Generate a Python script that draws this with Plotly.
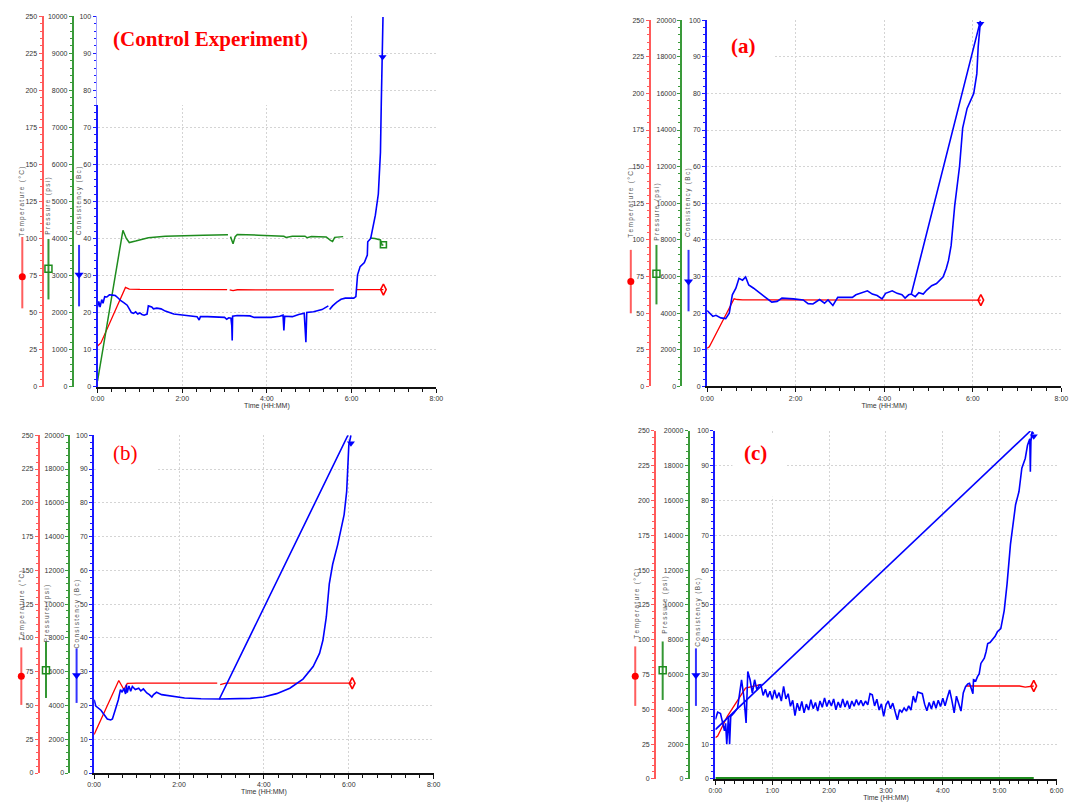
import plotly.graph_objects as go

W, H = 1079, 812

# ===================== DATA =====================
# time in hours, temperature in degC, pressure in psi, consistency in Bc

# ---- Control experiment ----
ctrl_temp_t = [0, 0.08, 0.66, 0.75, 1.0, 2.0, 3.06, None, 3.12, 3.2, 3.3, 4.0, 5.0, 5.58, None, 6.1, 6.5, 6.75]
ctrl_temp_c = [27.5, 29.5, 67.0, 65.8, 65.6, 65.5, 65.5, None, 65.3, 64.8, 65.4, 65.5, 65.4, 65.3, None, 65.5, 65.5, 65.5]
ctrl_pres_t = [0, 0.6, 0.68, 0.75, 0.9, 1.2, 1.6, 2.0, 2.5, 3.08, None, 3.14, 3.2, 3.25, 3.3, 3.8, 4.2, 4.4,
               4.45, 4.6, 4.9, 4.95, 5.05, 5.4, 5.5, 5.55, 5.6, 5.8, None, 6.43, 6.55, 6.68, 6.72, 6.75]
ctrl_pres_psi = [150, 4220, 4000, 3890, 3930, 4020, 4060, 4080, 4090, 4100, None, 4050, 3860, 4050, 4110, 4090, 4080, 4060,
                 4030, 4060, 4060, 4020, 4050, 4040, 3950, 3920, 4030, 4050, None, 4010, 4000, 3960, 3820, 3830]
ctrl_cons_t = [0.0, 0.03, 0.06, 0.1, 0.13, 0.17, 0.22, 0.28, 0.35, 0.42, 0.48, 0.55, 0.62, 0.7, 0.75, 0.8, 0.85, 0.9,
               0.95, 1.0, 1.05, 1.1, 1.17, 1.2, 1.28, 1.32, 1.4, 1.5, 1.6, 1.7, 1.8, 1.9, 2.0, 2.2, 2.35, 2.4, 2.43,
               2.6, 2.8, 3.0, 3.05, 3.1, 3.15, 3.17, 3.18, 3.19, 3.3, 3.5, 3.6, 3.7, 3.9, 4.1, 4.3, 4.38, 4.4, 4.42,
               4.6, 4.75, 4.88, 4.92, 4.94, 5.1, 5.3, 5.45, None, 5.48, 5.55, 5.65, 5.75, 5.85, 6.05, 6.1, 6.14, 6.2,
               6.3, 6.37, 6.38, 6.45, 6.56, 6.63, 6.68, 6.7, 6.74]
ctrl_cons_bc = [21.5, 23.0, 21.5, 23.5, 22.5, 24.3, 24.2, 24.8, 24.7, 24.6, 24.0, 23.2, 22.7, 22.0, 21.0, 20.0, 19.8, 20.2,
                19.6, 19.9, 19.5, 19.3, 19.6, 21.8, 21.5, 21.0, 21.2, 21.0, 20.4, 19.9, 19.6, 19.5, 19.4, 19.1, 18.9, 18.0, 18.9,
                18.9, 18.8, 18.7, 18.2, 18.6, 18.5, 16.5, 12.5, 19.0, 19.2, 19.2, 19.1, 18.7, 18.6, 18.7, 19.0, 19.3, 15.2, 19.0,
                18.9, 19.5, 19.8, 12.0, 20.0, 20.2, 20.8, 21.8, None, 20.8, 21.8, 22.8, 23.6, 23.9, 23.9, 24.3, 30.2, 32.4,
                33.5, 35.5, 39.1, 40.0, 46.3, 52.0, 63.2, 76.6, 99.8]
ctrl_cons_mark = ([6.73], [89])

# ---- (a) ----
a_temp_t = [0, 0.05, 0.61, 0.68, 0.8, 1.5, 3.0, 4.5, 5.5, 6.18]
a_temp_c = [26.0, 27.0, 59.8, 59.3, 59.0, 58.9, 58.9, 58.9, 58.9, 58.9]
a_cons_t = [0, 0.05, 0.13, 0.2, 0.31, 0.42, 0.5, 0.57, 0.65, 0.72, 0.8, 0.87, 0.94, 1.05, 1.2, 1.35, 1.46, 1.58, 1.69, 1.95,
            2.17, 2.28, 2.39, 2.54, 2.65, 2.73, 2.84, 2.95, 3.28, 3.36, 3.51, 3.62, 3.73, 3.84, 3.95, 4.03, 4.18, 4.29,
            4.4, 4.47, 4.55, 4.61, 6.17, None, 4.61, 4.7, 4.78, 4.88, 4.96, 5.07, 5.18, 5.25, 5.33, 5.4, 5.45, 5.51,
            5.59, 5.7, 5.77, 5.87, 6.02, 6.09, 6.12, 6.17]
a_cons_bc = [20.7, 20.0, 19.1, 19.4, 18.7, 18.5, 20.0, 25.0, 26.8, 29.5, 29.0, 29.9, 27.7, 26.8, 25.4, 24.1, 23.0, 23.2, 24.1, 23.9,
             23.6, 22.6, 22.5, 23.7, 22.7, 23.6, 22.1, 24.3, 24.3, 25.0, 25.6, 26.1, 25.2, 24.8, 23.9, 25.4, 26.1, 25.4,
             25.0, 24.1, 25.0, 25.2, 99.8, None, 25.2, 24.5, 25.6, 25.2, 26.3, 27.5, 28.1, 29.0, 29.9, 32.2, 34.4, 38.5,
             49.3, 60.1, 70.5, 75.9, 80.0, 85.4, 92.6, 99.6]
a_cons_mark = ([6.17], [99])

# ---- (b) ----
b_temp_t = [0, 0.58, 0.7, 0.78, 1.0, 2.9, None, 2.97, 3.05, 3.1, 6.08]
b_temp_c = [28.5, 68.5, 61.8, 66.3, 66.5, 66.5, None, 65.5, 66.0, 66.5, 66.5]
b_cons_t = [0, 0.04, 0.16, 0.23, 0.31, 0.39, 0.43, 0.5, 0.57, 0.62, 0.66, 0.7, 0.74, 0.76, 0.78, 0.82, 0.86, 0.9, 0.97,
            1.05, 1.1, 1.16, 1.24, 1.3, 1.36, 1.4, 1.47, 1.59, 1.74, 1.9, 2.13, 2.52, 2.95, 5.98, None, 2.95, 3.29,
            3.68, 3.99, 4.3, 4.61, 4.92, 5.16, 5.31, 5.39, 5.47, 5.54, 5.62, 5.74, 5.81, 5.89, 5.95, 5.98, 6.0, 6.05]
b_cons_bc = [21.7, 19.8, 18.6, 17.3, 16.0, 15.7, 16.0, 18.8, 21.7, 24.7, 23.9, 25.1, 23.4, 26.1, 23.8, 25.8, 24.2, 25.6, 24.7,
             25.1, 24.3, 24.9, 23.7, 23.2, 22.5, 23.2, 23.9, 23.2, 22.9, 22.5, 22.2, 22.0, 21.9, 100, None, 21.9, 21.9,
             22.1, 22.5, 23.5, 25.1, 27.8, 31.5, 35.4, 39.3, 46.2, 56.0, 61.8, 67.7, 71.6, 76.5, 83.4, 90.2, 97.0, 100]
b_cons_mark = ([6.05], [97.6])

# ---- (c) ----
c_temp_t = [0, 0.04, 0.21, 0.39, 0.53, 0.79, None, 4.41, 5.35, 5.45, 5.6]
c_temp_c = [29.7, 30.8, 45.0, 57.0, 65.3, 67.7, None, 66.8, 66.8, 66.0, 66.8]
c_pres_t = [0, 5.6]
c_pres_psi = [0, 0]
c_ramp_t = [0, 5.54]
c_ramp_bc = [14.2, 100]
c_cons_t = [0, 0.04, 0.09, 0.13, 0.16, 0.18, 0.2, 0.23, 0.25, 0.27, 0.33, 0.39, 0.42, 0.46, 0.5, 0.54, 0.57, 0.61,
            0.65, 0.69, 0.73, 0.77,
            0.80, 0.84, 0.88, 0.92, 0.96, 1.00, 1.04, 1.08, 1.12, 1.16, 1.20, 1.24, 1.28, 1.32, 1.36, 1.40, 1.44,
            1.48, 1.52, 1.56, 1.60, 1.64, 1.68, 1.72, 1.76, 1.80, 1.84, 1.88, 1.92, 1.96, 2.00, 2.04, 2.08, 2.12,
            2.16, 2.20, 2.24, 2.28, 2.32, 2.36, 2.40, 2.44, 2.48, 2.52, 2.56, 2.60, 2.64, 2.68, 2.72, 2.76, 2.80,
            2.84, 2.88, 2.92, 2.96, 3.00, 3.04, 3.08, 3.12, 3.16, 3.20, 3.24, 3.28, 3.32, 3.36, 3.40, 3.44, 3.48,
            3.52, 3.56, 3.60, 3.64, 3.68, 3.72, 3.76, 3.80, 3.84, 3.88, 3.92, 3.96, 4.00, 4.04, 4.08, 4.12, 4.16,
            4.20, 4.24, 4.28, 4.32, 4.36, 4.40,
            4.44, 4.47, 4.50, 4.53, 4.54, 4.58, 4.61, 4.64, 4.67, 4.70, 4.73, 4.76, 4.79, 4.83, 4.87, 4.92, 4.96,
            5.02, 5.08, 5.13, 5.19, 5.24, 5.28, 5.34, 5.39, 5.45, 5.49, 5.53, 5.54, 5.55, 5.57, 5.6]
c_cons_bc = [17.1, 19.2, 18.8, 16.1, 13.8, 16.0, 10.0, 18.0, 10.0, 18.0, 19.0, 20.4, 23.7, 28.5, 23.7, 16.1, 30.9, 28.5,
             24.7, 28.5, 25.6, 27.0,
             27.1, 24.0, 25.8, 23.5, 25.2, 22.8, 25.6, 23.2, 24.8, 22.4, 26.6, 23.0, 24.5, 20.9, 22.6, 18.2, 21.8,
             19.6, 22.3, 19.0, 21.5, 19.8, 22.8, 20.2, 22.0, 19.5, 22.4, 20.6, 23.3, 20.8, 22.6, 21.0, 23.0, 19.9,
             22.1, 20.5, 23.0, 20.7, 22.5, 20.2, 22.4, 20.9, 22.8, 21.2, 22.6, 21.0, 22.4, 21.3, 24.5, 24.2, 21.0,
             22.9, 19.8, 21.6, 18.0, 21.3, 22.4, 20.2, 21.8, 19.6, 17.0, 19.9, 19.2, 20.4, 19.5, 21.0, 19.8, 23.8,
             22.0, 25.0, 24.8, 24.5, 21.5, 19.6, 22.0, 20.1, 22.4, 20.3, 22.6, 20.8, 23.2, 21.0, 23.4, 25.6, 22.5,
             19.0, 23.8, 21.6, 19.5, 24.7, 26.5,
             27.3, 27.5, 26.0, 24.5, 28.5, 28.2, 29.4, 30.2, 33.2, 33.8, 34.7, 36.5, 38.9, 39.2, 39.9, 41.0, 42.3,
             43.2, 48.4, 56.0, 67.4, 74.0, 78.8, 82.6, 89.3, 92.1, 95.9, 97.8, 88.3, 97.0, 99.8, 99.2]
c_cons_mark = ([5.6], [98.5])

panel_labels = ["(Control Experiment)", "(a)", "(b)", "(c)"]
temp_title = "Temperature (°C)"
pres_title = "Pressure (psi)"
cons_title = "Consistency (Bc)"
time_title = "Time (HH:MM)"

# ===================== LAYOUT CONFIG (pixel geometry) =====================
PANELS = [
    dict(px0=91.7, px1=435.0, ptop=12.3, pbot=386.0, tx=36.0, prx=66.7, pmax=10000, xmax=8, xmaj=2, xmin=1/3,
         titles=[(15.7, 199), (42, 204), (73, 199)],
         glyphs=[(15.5, 235, 307, 275), (42, 237, 298, 267), (73, 243, 305, 273)],
         label_pos=(206, 35), bold=True, cover=(90.6, 0, 327, 102), pres_w=1.5,
         temp=(ctrl_temp_t, ctrl_temp_c), pres=(ctrl_pres_t, ctrl_pres_psi),
         cons=[(ctrl_cons_t, ctrl_cons_bc)], mark=ctrl_cons_mark),
    dict(px0=709.3, px1=1068.3, ptop=16.3, pbot=385.7, tx=651.0, prx=683.3, pmax=20000, xmax=8, xmaj=2, xmin=1/3,
         titles=[(632.7, 200), (659, 210), (690.7, 200)],
         glyphs=[(632, 248, 312, 280), (658, 243, 303, 272), (690.5, 248, 310, 280)],
         label_pos=(746, 42), bold=True, cover=(712, 46, 778, 60), pres_w=1.5,
         temp=(a_temp_t, a_temp_c), pres=None, cons=[(a_cons_t, a_cons_bc)], mark=a_cons_mark),
    dict(px0=88.3, px1=432.3, ptop=435.0, pbot=775.7, tx=32.3, prx=63.3, pmax=20000, xmax=8, xmaj=2, xmin=1/3,
         titles=[(15, 607), (40, 615), (70.7, 615)],
         glyphs=[(14.5, 649, 707, 678), (39.5, 643, 700, 672), (70.5, 650, 705, 677)],
         label_pos=(120.5, 453), bold=False, cover=(90, 462, 153, 476), pres_w=1.5,
         temp=(b_temp_t, b_temp_c), pres=None, cons=[(b_cons_t, b_cons_bc)], mark=b_cons_mark),
    dict(px0=717.7, px1=1063.3, ptop=430.7, pbot=781.7, tx=656.7, prx=690.7, pmax=20000, xmax=6, xmaj=1, xmin=1/6,
         titles=[(638.3, 605), (666.7, 607), (700, 613)],
         glyphs=[(636.5, 648, 708, 678), (664.3, 643, 702, 672), (698, 650, 708, 677)],
         label_pos=(758, 453), bold=True, cover=(735, 434, 790, 497), pres_w=4,
         temp=(c_temp_t, c_temp_c), pres=(c_pres_t, c_pres_psi),
         cons=[(c_ramp_t, c_ramp_bc), (c_cons_t, c_cons_bc)], mark=c_cons_mark),
]

RED, GREEN, BLUE = "#ff0000", "#1e8c1e", "#0000ff"
RED_AX, GREEN_AX, BLUE_AX = "#ff5a5a", "#3a9a3a", "#1a1aff"
GRID = "#d4d4d4"
TICKFONT = dict(family="Liberation Sans Narrow, Arial Narrow, Liberation Sans, Arial, sans-serif", size=7, color="#333")
TITLEFONT = dict(family="Liberation Sans, Arial, sans-serif", size=6.5, color="#555")


def fx(p):
    return p / W


def fy(p):
    return 1 - p / H


def spaced(s):
    return "\u2009".join(s)


def yname(n):
    return "y" if n == 1 else f"y{n}"


def ykey(n):
    return "yaxis" if n == 1 else f"yaxis{n}"


fig = go.Figure()
layout = {}
shapes = []
annotations = []

GX, GY = "x5", "y13"  # hidden full-page axes for the side legend glyphs

for i, P in enumerate(PANELS):
    xn = "x" if i == 0 else f"x{i + 1}"
    xk = "xaxis" if i == 0 else f"xaxis{i + 1}"
    nT, nP, nC = 3 * i + 1, 3 * i + 2, 3 * i + 3

    dom_y = [fy(P["pbot"]), fy(P["ptop"])]
    common_y = dict(ticks="outside", ticklen=3, tickwidth=1, showline=True, linewidth=2,
                    zeroline=False, tickfont=TICKFONT, fixedrange=True, side="left",
                    exponentformat="none", tickformat="d")

    layout[ykey(nT)] = dict(common_y, domain=dom_y, range=[0, 250], anchor="free", position=fx(P["tx"]),
                            tickmode="linear", tick0=0, dtick=25, tickcolor=RED_AX, linecolor=RED_AX,
                            showgrid=False,
                            minor=dict(tickmode="linear", tick0=0, dtick=5, ticklen=2, ticks="outside",
                                       tickcolor=RED_AX, showgrid=False))
    layout[ykey(nP)] = dict(common_y, overlaying=yname(nT), range=[0, P["pmax"]], anchor="free",
                            position=fx(P["prx"]), tickmode="linear", tick0=0, dtick=P["pmax"] / 10,
                            tickcolor=GREEN_AX, linecolor=GREEN_AX, showgrid=False,
                            minor=dict(tickmode="linear", tick0=0, dtick=P["pmax"] / 50, ticklen=2, ticks="outside",
                                       tickcolor=GREEN_AX, showgrid=False))
    layout[ykey(nC)] = dict(common_y, overlaying=yname(nT), range=[0, 100], anchor=xn,
                            tickmode="linear", tick0=0, dtick=10, tickcolor=BLUE_AX, linecolor=BLUE_AX,
                            showgrid=True, gridcolor=GRID, griddash="2px,2px", gridwidth=1,
                            minor=dict(tickmode="linear", tick0=0, dtick=2, ticklen=2, ticks="outside",
                                       tickcolor=BLUE_AX, showgrid=False))
    n_major = int(round(P["xmax"] / P["xmaj"]))
    alias = {str(k * P["xmaj"]): f"{k * P['xmaj']}:00" for k in range(n_major + 1)}
    layout[xk] = dict(domain=[fx(P["px0"]), fx(P["px1"])], range=[0, P["xmax"]], anchor=yname(nT),
                      tickmode="linear", tick0=0, dtick=P["xmaj"], labelalias=alias,
                      ticks="outside", ticklen=4, tickcolor="#111", showline=True, linecolor="#111", linewidth=2,
                      showgrid=True, gridcolor=GRID, griddash="2px,2px", gridwidth=1, zeroline=False,
                      tickfont=TICKFONT, fixedrange=True, layer="below traces",
                      minor=dict(tickmode="linear", tick0=0, dtick=P["xmin"], ticklen=3, ticks="outside",
                                 tickcolor="#111", showgrid=False),
                      title=dict(text=time_title, font=dict(TICKFONT, size=7), standoff=2))

    # temperature
    tt, tv = P["temp"]
    fig.add_trace(go.Scatter(x=tt, y=tv, xaxis=xn, yaxis=yname(nT), mode="lines",
                             line=dict(color=RED, width=1.3), connectgaps=False, hoverinfo="skip"))
    fig.add_trace(go.Scatter(x=[tt[-1]], y=[tv[-1]], xaxis=xn, yaxis=yname(nT), mode="markers",
                             marker=dict(symbol="diamond-tall-open", size=8, color=RED, line=dict(width=1.6)),
                             hoverinfo="skip"))
    # pressure (an empty trace keeps the axis visible when no pressure is plotted)
    if P["pres"] is not None:
        pt, pv = P["pres"]
        fig.add_trace(go.Scatter(x=pt, y=pv, xaxis=xn, yaxis=yname(nP), mode="lines", cliponaxis=False,
                                 line=dict(color=GREEN, width=P["pres_w"]), connectgaps=False, hoverinfo="skip"))
        if pv[-1] > 0:
            fig.add_trace(go.Scatter(x=[pt[-1]], y=[pv[-1]], xaxis=xn, yaxis=yname(nP), mode="markers",
                                     marker=dict(symbol="square-open", size=6, color=GREEN, line=dict(width=1.6)),
                                     hoverinfo="skip"))
    else:
        fig.add_trace(go.Scatter(x=[None], y=[None], xaxis=xn, yaxis=yname(nP), mode="lines",
                                 line=dict(color=GREEN), hoverinfo="skip"))
    # consistency
    for ct, cv in P["cons"]:
        fig.add_trace(go.Scatter(x=ct, y=cv, xaxis=xn, yaxis=yname(nC), mode="lines", cliponaxis=False,
                                 line=dict(color=BLUE, width=1.6), connectgaps=False, hoverinfo="skip"))
    mx, my = P["mark"]
    fig.add_trace(go.Scatter(x=mx, y=my, xaxis=xn, yaxis=yname(nC), mode="markers", cliponaxis=False,
                             marker=dict(symbol="triangle-down", size=7, color=BLUE), hoverinfo="skip"))

    # side legend glyphs
    gcols = [("rgba(255,40,40,0.75)", "circle", RED, 7, 0),
             ("rgba(30,140,30,0.9)", "square-open", GREEN, 7, 1.5),
             ("rgba(0,0,255,0.8)", "triangle-down", BLUE, 8, 0)]
    for (gx, g0, g1, gm), (lc, sym, mc, ms, lw) in zip(P["glyphs"], gcols):
        fig.add_trace(go.Scatter(x=[gx, gx], y=[g0, g1], xaxis=GX, yaxis=GY, mode="lines",
                                 line=dict(color=lc, width=2), hoverinfo="skip"))
        fig.add_trace(go.Scatter(x=[gx], y=[gm], xaxis=GX, yaxis=GY, mode="markers",
                                 marker=dict(symbol=sym, size=ms, color=mc, line=dict(width=lw, color=mc)),
                                 hoverinfo="skip"))

    # axis titles (vertical)
    for (ax_, ay_), txt in zip(P["titles"], [temp_title, pres_title, cons_title]):
        annotations.append(dict(x=fx(ax_), y=fy(ay_), xref="paper", yref="paper", text=spaced(txt),
                                textangle=-90, showarrow=False, font=TITLEFONT, xanchor="center", yanchor="middle"))

    # white patch behind the panel label (as in the reference)
    c0x, c0y, c1x, c1y = P["cover"]
    shapes.append(dict(type="rect", xref="paper", yref="paper", x0=fx(c0x), x1=fx(c1x), y0=fy(c1y), y1=fy(c0y),
                       fillcolor="white", line=dict(width=0), layer="above"))

    lx, ly = P["label_pos"]
    annotations.append(dict(x=fx(lx), y=fy(ly), xref="paper", yref="paper", showarrow=False,
                            text=(f"<b>{panel_labels[i]}</b>" if P["bold"] else panel_labels[i]),
                            font=dict(family="Liberation Serif, Times New Roman, serif", size=21, color="#ff0000"),
                            xanchor="center", yanchor="middle"))

layout["xaxis5"] = dict(domain=[0, 1], range=[0, W], visible=False, fixedrange=True, anchor=GY)
layout["yaxis13"] = dict(domain=[0, 1], range=[H, 0], visible=False, fixedrange=True, anchor=GX)

fig.update_layout(**layout)
fig.update_layout(width=W, height=H, autosize=False, margin=dict(l=0, r=0, t=0, b=0),
                  paper_bgcolor="white", plot_bgcolor="rgba(0,0,0,0)", showlegend=False,
                  shapes=shapes, annotations=annotations)

fig.write_html("out.html", config={"displayModeBar": False, "staticPlot": True},
               post_script="document.body.style.margin='0';document.body.style.overflow='hidden';")
